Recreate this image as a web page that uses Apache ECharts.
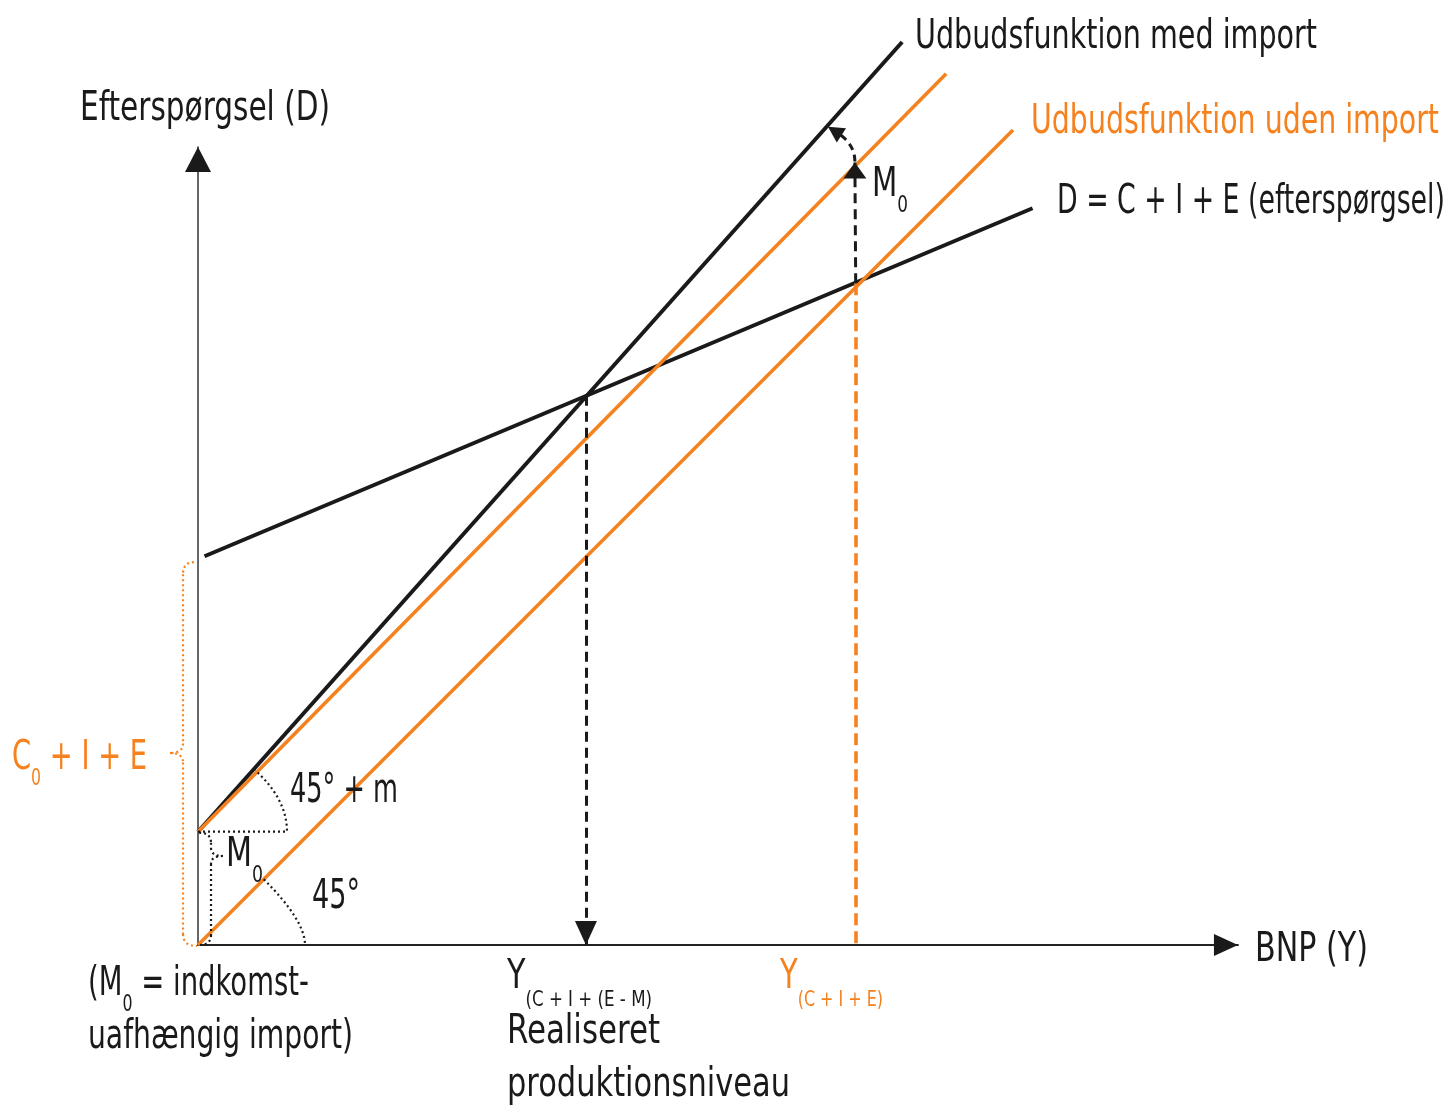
<!DOCTYPE html>
<html><head><meta charset="utf-8">
<script src="https://cdn.jsdelivr.net/npm/echarts/dist/echarts.min.js"></script>
<style>html,body{margin:0;padding:0;background:#fff}#c{width:1452px;height:1107px}</style>
</head><body><div id="c"></div>
<script>
// ---- data (model units: Y on x-axis, D on y-axis) ----
const supplyNoImport      = [[0, 0], [100, 100]];          // 45° line (Udbudsfunktion uden import)
const supplyNoImportUp    = [[0, 13.9], [91.8, 106.9]];    // 45° line shifted by M0
const supplyWithImport    = [[0, 13.9], [86.4, 110.8]];    // 45° + m (Udbudsfunktion med import)
const demand              = [[0.8, 47.7], [102.4, 90.4]];  // D = C + I + E
const eqWithImport        = [47.6, 67.4];
const eqWithoutImport     = [80.7, 81.2];
const m0ArrowTop          = [80.6, 96.0];
const importShiftTarget   = [77.3, 100.4];
const axisMaxX = 127.6, axisMaxY = 97.9;

const ORANGE = '#f5821f', BLACK = '#1a1a1a';
const FONT = '"Liberation Sans Narrow","DejaVu Sans Condensed","Roboto Condensed","Liberation Sans",sans-serif';
const K = 8.15, OX = 198, OY = 945;

const chart = echarts.init(document.getElementById('c'));
const ln = (data, color, width, z) => ({
  type: 'line', data, symbol: 'none', clip: false, silent: true, z,
  lineStyle: { color, width }, animation: false
});
const option = {
  animation: false,
  backgroundColor: '#fff',
  grid: { left: OX, top: OY - axisMaxY * K, width: axisMaxX * K, height: axisMaxY * K, containLabel: false, outerBoundsMode: 'none' },
  xAxis: { type: 'value', min: 0, max: axisMaxX,
    axisLine: { show: true, onZero: false, lineStyle: { color: '#222', width: 2 } },
    axisTick: { show: false }, axisLabel: { show: false }, splitLine: { show: false } },
  yAxis: { type: 'value', min: 0, max: axisMaxY,
    axisLine: { show: true, onZero: false, lineStyle: { color: '#333', width: 1.5 } },
    axisTick: { show: false }, axisLabel: { show: false }, splitLine: { show: false } },
  series: [
    ln(supplyWithImport, BLACK, 4, 2),
    ln(demand, BLACK, 4, 2),
    ln(supplyNoImport, ORANGE, 3.6, 3),
    ln(supplyNoImportUp, ORANGE, 3.6, 3),
    {
      type: 'line', data: [], silent: true, z: 4, clip: false,
      markLine: {
        silent: true, animation: false, label: { show: false }, symbol: ['none', 'none'],
        data: [
          [{ coord: [eqWithImport[0], eqWithImport[1]], lineStyle: { color: BLACK, width: 3, type: [10, 6] } },
           { coord: [eqWithImport[0], 0] }],
          [{ coord: [eqWithoutImport[0], eqWithoutImport[1]], lineStyle: { color: ORANGE, width: 3.6, type: [12, 6] } },
           { coord: [eqWithoutImport[0], 0] }],
          [{ coord: [eqWithoutImport[0], eqWithoutImport[1]], lineStyle: { color: BLACK, width: 3, type: [10, 6] } },
           { coord: [m0ArrowTop[0], m0ArrowTop[1]] }]
        ]
      }
    }
  ]
};
chart.setOption(option);

// ---- annotations ----
const P = pt => chart.convertToPixel({ gridIndex: 0 }, pt);
const mctx = document.createElement('canvas').getContext('2d');
const tw = (t, s) => { mctx.font = s + 'px ' + FONT; return mctx.measureText(t).width; };
const MAIN = 40, SUB = 23;
// label: parts = [[text, isSub]], width = target width in the reference (condensed face)
function label(x, y, parts, width, color, subSize, subDy) {
  const ss = subSize || SUB;
  const natural = parts.reduce((acc, [t, isSub]) => acc + tw(t, isSub ? ss : MAIN), 0);
  const sx = width / natural;
  const els = []; let cx = x;
  parts.forEach(([t, isSub]) => {
    const s = isSub ? ss : MAIN;
    els.push({ type: 'text', x: cx, y: (isSub ? y + (subDy || 20) : y) + 3, scaleX: sx, silent: true, z: 100,
      style: { text: t, fill: color || BLACK, font: s + 'px ' + FONT, align: 'left', verticalAlign: 'middle' } });
    cx += tw(t, s) * sx;
  });
  return els;
}
const dotted = (color) => ({ stroke: color, lineWidth: 2.2, lineDash: [2, 3], fill: null });
const g = [];
g.push(...label(915, 35, [['Udbudsfunktion med import']], 402));
g.push(...label(1031, 120, [['Udbudsfunktion uden import']], 408, ORANGE));
g.push(...label(1057, 200, [['D = C + I + E (efterspørgsel)']], 388));
g.push(...label(80, 107, [['Efterspørgsel (D)']], 250));
g.push(...label(1255, 948, [['BNP (Y)']], 113));
g.push(...label(872, 183, [['M'], ['0', 1]], 36));
g.push(...label(290, 789, [['45° + m']], 108));
g.push(...label(226, 853, [['M'], ['0', 1]], 37));
g.push(...label(312, 895, [['45°']], 48));
g.push(...label(12, 756, [['C'], ['0', 1], [' + I + E']], 135, ORANGE));
g.push(...label(88, 982, [['(M'], ['0', 1], [' = indkomst-']], 221));
g.push(...label(88, 1035, [['uafhængig import)']], 265));
g.push(...label(507, 975, [['Y'], ['(C + I + (E - M)', 1]], 145, BLACK, 22, 22));
g.push(...label(507, 1030, [['Realiseret']], 153));
g.push(...label(507, 1083, [['produktionsniveau']], 283));
g.push(...label(780, 975, [['Y'], ['(C + I + E)', 1]], 103, ORANGE, 22, 22));

// arrowheads (tip at the given pixel, pointing along dir)
function arrowHead(tip, dir, w, h, color) {
  const L = Math.hypot(dir[0], dir[1]); const d = [dir[0] / L, dir[1] / L];
  const b = [tip[0] - d[0] * h, tip[1] - d[1] * h];
  const n = [-d[1], d[0]];
  return { type: 'polygon', silent: true, z: 100,
    shape: { points: [tip, [b[0] + n[0] * w / 2, b[1] + n[1] * w / 2], [b[0] - n[0] * w / 2, b[1] - n[1] * w / 2]] },
    style: { fill: color || BLACK } };
}
const xEnd = P([axisMaxX, 0]), yEnd = P([0, axisMaxY]);
g.push(arrowHead(xEnd, [1, 0], 22, 24, BLACK));
g.push(arrowHead(yEnd, [0, -1], 26, 25, BLACK));
g.push(arrowHead(P([eqWithImport[0], 0]), [0, 1], 22, 24, BLACK));
const upTip = P(m0ArrowTop);
g.push(arrowHead(upTip, [0, -1], 23, 16, BLACK));
// curved dashed arrow (M0 shift up to the import supply line)
const tgt = P(importShiftTarget);
const cp = [upTip[0], tgt[1] + 17.5];
const cd = [tgt[0] - cp[0], tgt[1] - cp[1]]; const cl = Math.hypot(cd[0], cd[1]);
const cEnd = [tgt[0] - cd[0] / cl * 12, tgt[1] - cd[1] / cl * 12];
g.push({ type: 'bezierCurve', silent: true, z: 99,
  shape: { x1: upTip[0], y1: upTip[1] - 1, x2: cEnd[0], y2: cEnd[1], cpx1: cp[0], cpy1: cp[1] },
  style: { stroke: BLACK, lineWidth: 3, lineDash: [7, 5], fill: null } });
g.push(arrowHead(tgt, cd, 17, 16, BLACK));

// angle arcs
function angleArc(lineData, rStart, rEnd) {
  const a = P(lineData[0]), b = P(lineData[1]);
  const L = Math.hypot(b[0] - a[0], b[1] - a[1]);
  const d = [(b[0] - a[0]) / L, (b[1] - a[1]) / L];
  const s = [a[0] + d[0] * rStart, a[1] + d[1] * rStart];
  const e = [a[0] + rEnd, a[1]];
  const perp = [-d[1], d[0]];
  const t = (e[0] - s[0]) / perp[0];
  const c = [e[0], s[1] + perp[1] * t];
  return [
    { type: 'bezierCurve', silent: true, z: 50, shape: { x1: s[0], y1: s[1], x2: e[0], y2: e[1], cpx1: c[0], cpy1: c[1] }, style: dotted(BLACK) },
    { type: 'line', silent: true, z: 50, shape: { x1: a[0], y1: a[1], x2: e[0], y2: e[1] }, style: dotted(BLACK) }
  ];
}
g.push(...angleArc(supplyWithImport, 84, 89));
g.push(angleArc(supplyNoImport, 93, 107)[0]);

// braces
function brace(top, bottom, xv, tipX, tipY, color, r) {
  const seg = (x1, y1, cx, cy, x2, y2) => ({ type: 'bezierCurve', silent: true, z: 50, shape: { x1, y1, x2, y2, cpx1: cx, cpy1: cy }, style: dotted(color) });
  const line = (x1, y1, x2, y2) => ({ type: 'line', silent: true, z: 50, shape: { x1, y1, x2, y2 }, style: dotted(color) });
  return [
    seg(top[0], top[1], xv, top[1], xv, top[1] + r),
    line(xv, top[1] + r, xv, tipY - r * 0.8),
    seg(xv, tipY - r * 0.8, xv, tipY, tipX, tipY),
    seg(tipX, tipY, xv, tipY, xv, tipY + r * 0.8),
    line(xv, tipY + r * 0.8, xv, bottom[1] - r),
    seg(xv, bottom[1] - r, xv, bottom[1], bottom[0], bottom[1])
  ];
}
const yTopC = P([0, demand[0][1]])[1];
g.push(...brace([194, yTopC + 6], [197, OY + 1], 183, 170, 753, ORANGE, 12));
const m0y = P([0, supplyWithImport[0][1]])[1];
g.push(...brace([199, m0y + 1], [199, OY], 211, 223, 856, BLACK, 10));

chart.setOption({ graphic: { elements: g } });
</script>
</body></html>
